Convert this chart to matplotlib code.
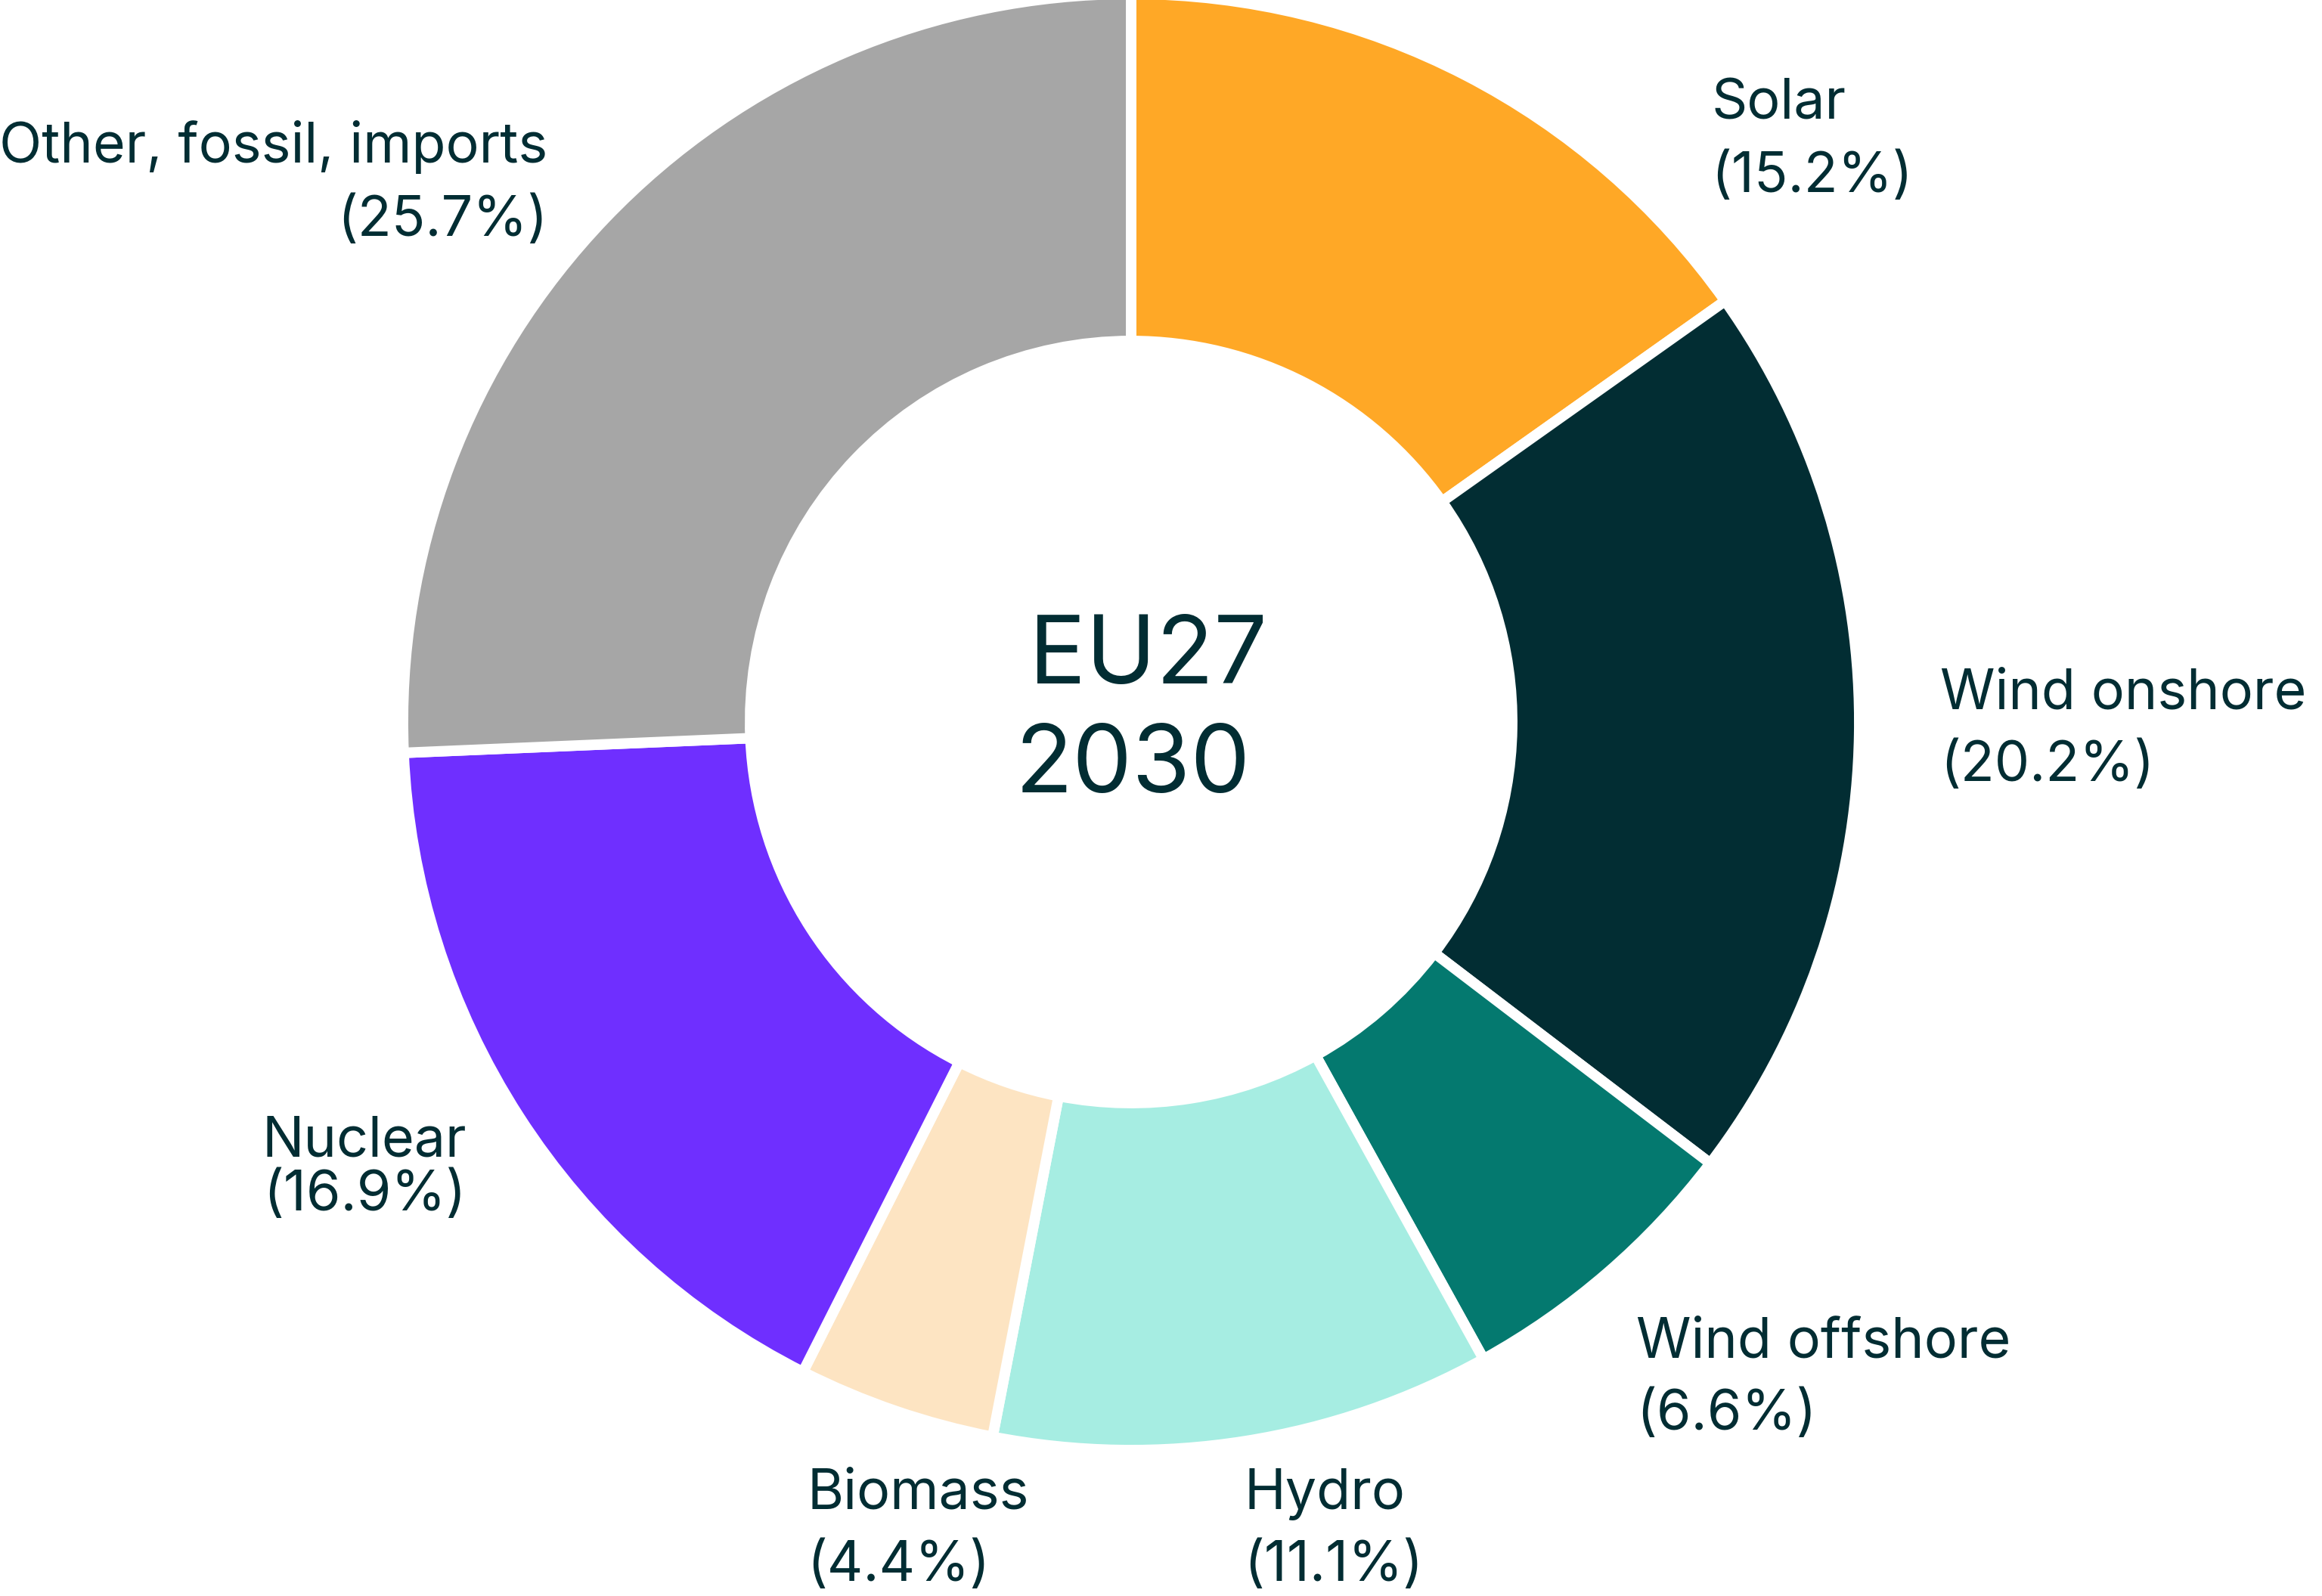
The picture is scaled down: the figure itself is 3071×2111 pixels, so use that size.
import matplotlib.pyplot as plt

# EU27 electricity mix, 2030
sources = ['Solar', 'Wind onshore', 'Wind offshore', 'Hydro', 'Biomass',
           'Nuclear', 'Other, fossil, imports']
shares = [15.2, 20.2, 6.6, 11.1, 4.4, 16.9, 25.7]
colors = ['#FFA826', '#022D33', '#04796F', '#A6EDE2', '#FDE4C2',
          '#6F2FFF', '#A6A6A6']

TEXT = '#022D33'
W, H = 3071, 2111

plt.rcParams['font.family'] = ['Inter', 'DejaVu Sans']

fig = plt.figure(figsize=(W / 200, H / 200), dpi=200)
ax = fig.add_axes([0, 0, 1, 1])

# white edge eats half its width from each side of the ring
cx, cy, r = 1496, H - 955, 963
ax.pie(shares, colors=colors, startangle=90, counterclock=False,
       radius=r, center=(cx, cy), frame=True,
       wedgeprops=dict(width=459, edgecolor='white', linewidth=5))
ax.set_xlim(0, W)
ax.set_ylim(0, H)
ax.set_aspect('equal')
ax.axis('off')

# centre label
ax.text(cx + 22, H - 904, 'EU27', ha='center', va='baseline',
        fontsize=45, color=TEXT)
ax.text(cx + 2, H - 1048, '2030', ha='center', va='baseline',
        fontsize=45, color=TEXT)

# (x, first baseline, second baseline, alignment) for each label
label_pos = {
    'Solar': (2263, 158, 254, 'left'),
    'Wind onshore': (2566, 937, 1033, 'left'),
    'Wind offshore': (2164, 1795, 1891, 'left'),
    'Hydro': (1645, 1996, 2091, 'left'),
    'Biomass': (1067, 1996, 2091, 'left'),
    'Nuclear': (617, 1529, 1601, 'right'),
    'Other, fossil, imports': (724, 215, 312, 'right'),
}

for name, share in zip(sources, shares):
    x, y1, y2, ha = label_pos[name]
    ax.text(x, H - y1, name, ha=ha, va='baseline', fontsize=26.5, color=TEXT)
    ax.text(x, H - y2, f'({share}%)', ha=ha, va='baseline', fontsize=26.5,
            color=TEXT)

fig.savefig('out.png', dpi=200, facecolor='white')
